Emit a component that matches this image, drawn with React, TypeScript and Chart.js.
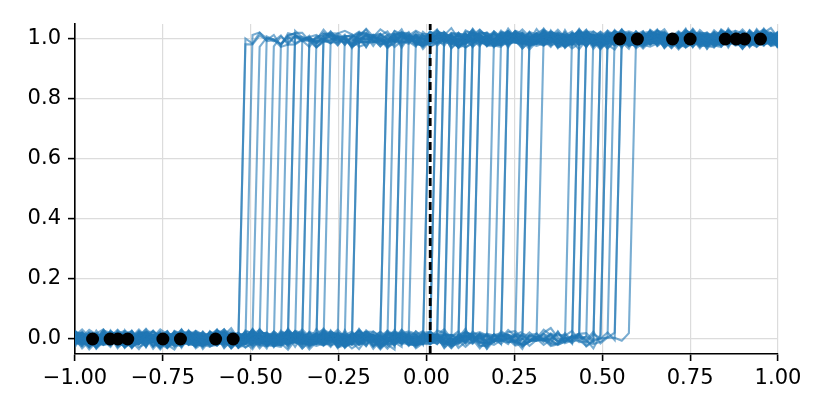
import React, { useEffect, useRef } from "react";
import { Chart, registerables } from "chart.js";

Chart.register(...registerables);

const stepThresholds = [
  -0.525, -0.525, -0.505, -0.485, -0.465, -0.444, -0.424, -0.404, -0.384, -0.384,
  -0.364, -0.343, -0.343, -0.323, -0.303, -0.303, -0.283, -0.242, -0.222, -0.202,
  -0.202, -0.121, -0.121, -0.101, -0.081, -0.081, -0.061, -0.04, 0.0, 0.0,
  0.02, 0.02, 0.04, 0.04, 0.061, 0.061, 0.081, 0.101, 0.101, 0.121,
  0.121, 0.141, 0.141, 0.182, 0.202, 0.222, 0.222, 0.263, 0.283, 0.283,
  0.323, 0.404, 0.424, 0.424, 0.444, 0.444, 0.465, 0.485, 0.485, 0.505,
  0.505, 0.525, 0.545, 0.545, 0.586,
];

// Jitter of the curves around 0 and 1 (thousandths), estimated band texture
const jitter = [
  6, -4, 13, 21, 9, -15, -8, 3, -22, -11, 17, 4, 26, 12, -6, -19, -3, 8, -13, 2,
  15, 28, 7, -10, -27, -14, 5, -2, 11, -17, 20, 9, -5, 14, -24, -9, 1, 18, 33, 10,
  -7, -16, 3, -29, -12, 7, 22, -1, 12, -20, -4, 9, 16, -8, -31, -15, 6, 24, 13, -3,
  19, -11, -21, 2, 10, -6, 27, 14, -13, -2, -18, 8, 30, -9, 4, -25, -7, 15, 1, -14,
  11, 23, -5, -19, 5, -33, -10, 17, 7, -4, 21, -12, 3, 12, -16, 25, -1,
];
const fineJitter = [
  3, -7, 9, -2, -10, 5, 8, -4, 1, -9, 6, 10, -5, -1, 7, -8, 2, 9, -6, 4,
  -3, 10, -9, 0, 6, -7, 8, -2, 5, -10, 3, 7, -4, -8, 9, 1, -6, 4, -1, 8, -5,
];

// Observed data points
const negX = [-0.95, -0.9, -0.878, -0.85, -0.75, -0.7, -0.6, -0.55];
const posX = [0.55, 0.6, 0.7, 0.75, 0.85, 0.881, 0.905, 0.95];

const meanThreshold = 0.0105;

const xTicks = [-1, -0.75, -0.5, -0.25, 0, 0.25, 0.5, 0.75, 1];
const yTicks = [0, 0.2, 0.4, 0.6, 0.8, 1.0];

const GRID_N = 100;

const fmt = (v: number, d: number) => (v < 0 ? "\u2212" + Math.abs(v).toFixed(d) : v.toFixed(d));

export default function App() {
  const ref = useRef<HTMLCanvasElement>(null);

  useEffect(() => {
    if (!ref.current) return;
    const xGrid = Array.from({ length: GRID_N }, (_, i) => -1 + (2 * i) / (GRID_N - 1));

    const lineSets = stepThresholds.map((t, li) => {
      const sign = li % 2 === 0 ? 1 : -1;
      return {
        type: "scatter" as const,
        data: xGrid.map((x, i) => ({
          x,
          y:
            (x > t ? 1 : 0) +
            (0.85 * (sign * jitter[(i + li * 23) % jitter.length] + fineJitter[(i + li * 11) % fineJitter.length])) /
              1000,
        })),
        showLine: true,
        borderColor: "rgba(31,119,180,0.6)",
        borderWidth: 2.1,
        pointRadius: 0,
        order: 3,
      };
    });

    const chart = new Chart(ref.current, {
      type: "scatter",
      data: {
        datasets: [
          {
            data: [...negX.map((x) => ({ x, y: 0 })), ...posX.map((x) => ({ x, y: 1 }))],
            backgroundColor: "#000",
            borderColor: "#000",
            borderWidth: 0,
            pointRadius: 6.5,
            order: 0,
          },
          {
            data: [
              { x: meanThreshold, y: -0.05 },
              { x: meanThreshold, y: 1.05 },
            ],
            showLine: true,
            borderColor: "#000",
            borderWidth: 2.8,
            borderDash: [8, 4],
            pointRadius: 0,
            order: 1,
          },
          ...lineSets,
        ] as any,
      },
      options: {
        animation: false,
        responsive: false,
        events: [],
        layout: { padding: { top: 24, right: 52, left: 0, bottom: 0 } },
        plugins: { legend: { display: false }, tooltip: { enabled: false } },
        scales: {
          x: {
            type: "linear",
            min: -1,
            max: 1,
            afterBuildTicks: (s: any) => {
              s.ticks = xTicks.map((value) => ({ value }));
            },
            afterFit: (s: any) => {
              s.height = 61;
            },
            ticks: {
              callback: (v: any) => fmt(Number(v), 2),
              color: "#000",
              font: { family: "DejaVu Sans", size: 21 },
              padding: 5,
              maxRotation: 0,
              autoSkip: false,
            },
            grid: {
              color: "#dcdcdc",
              lineWidth: 1.2,
              tickLength: 7,
              tickColor: "#000",
              tickWidth: 1.6,
            },
            border: { display: true, color: "#000", width: 1.6 },
          },
          y: {
            type: "linear",
            min: -0.05,
            max: 1.05,
            afterBuildTicks: (s: any) => {
              s.ticks = yTicks.map((value) => ({ value }));
            },
            afterFit: (s: any) => {
              s.width = 75;
            },
            ticks: {
              callback: (v: any) => fmt(Number(v), 1),
              color: "#000",
              font: { family: "DejaVu Sans", size: 21 },
              padding: 7,
              autoSkip: false,
            },
            grid: {
              color: "#dcdcdc",
              lineWidth: 1.2,
              tickLength: 7,
              tickColor: "#000",
              tickWidth: 1.6,
            },
            border: { display: true, color: "#000", width: 1.6 },
          },
        },
      } as any,
    });
    return () => chart.destroy();
  }, []);

  return (
    <div style={{ position: "absolute", left: 0, top: 0, width: 830, height: 415, background: "#fff" }}>
      <canvas ref={ref} width={830} height={415} />
    </div>
  );
}
